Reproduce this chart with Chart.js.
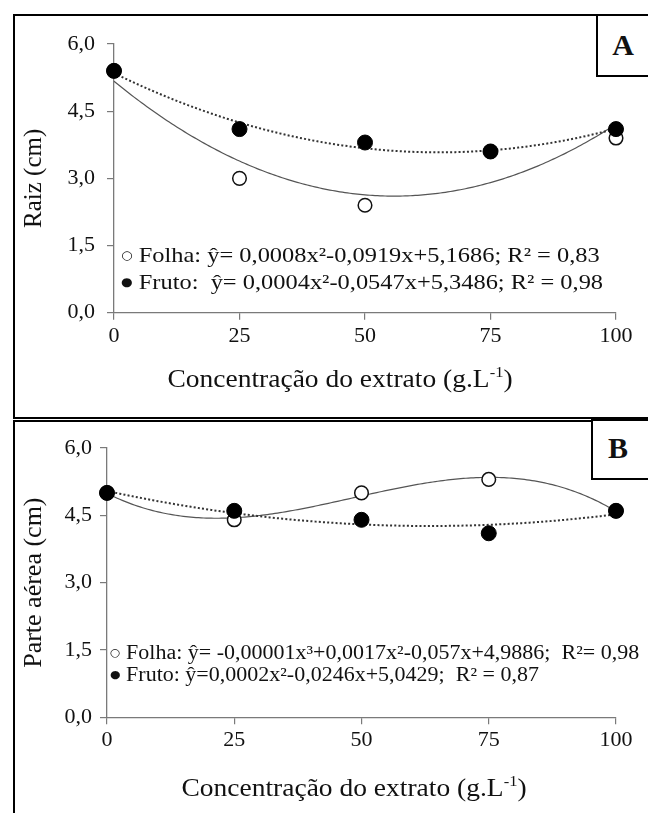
<!DOCTYPE html>
<html>
<head>
<meta charset="utf-8">
<script src="https://cdn.jsdelivr.net/npm/chart.js@4/dist/chart.umd.min.js"></script>
<style>
html,body{margin:0;padding:0;background:#fff;}
#page{position:relative;width:648px;height:813px;overflow:hidden;background:#fff;font-family:"Liberation Serif","Times New Roman",serif;color:#111;}
.frame{position:absolute;border:2px solid #000;box-sizing:border-box;}
canvas{position:absolute;left:0;}
.tag{position:absolute;border:2px solid #000;box-sizing:border-box;background:#fff;font-weight:bold;font-size:30px;line-height:1;}
.tag span{position:absolute;transform:translate(-50%,-50%);}
.leg{position:absolute;white-space:nowrap;line-height:1;transform-origin:0 50%;}
.sym{display:inline-block;font-family:"DejaVu Sans",sans-serif;vertical-align:middle;position:relative;top:-2px;}
.xt{position:absolute;white-space:nowrap;line-height:1;font-size:25px;transform:translate(-50%,-50%) scaleX(1.1);}
</style>
</head>
<body>
<div id="page">
  <div class="frame" style="left:13px;top:14px;width:700px;height:405px;"></div>
  <div class="frame" style="left:13px;top:420px;width:700px;height:420px;"></div>
  <canvas id="cA" width="648" height="418" style="top:0;"></canvas>
  <canvas id="cB" width="648" height="393" style="top:420px;"></canvas>
  <div class="tag" style="left:596px;top:14px;width:60px;height:63px;"><span style="left:25px;top:29px;">A</span></div>
  <div class="tag" style="left:591px;top:419px;width:65px;height:61px;"><span style="left:25px;top:27px;">B</span></div>

  <div class="leg" style="left:121px;top:244px;font-size:22px;transform:scaleX(1.11);"><span class="sym" style="font-size:12px;">○</span> Folha: ŷ= 0,0008x²-0,0919x+5,1686; R² = 0,83</div>
  <div class="leg" style="left:121px;top:271px;font-size:22px;transform:scaleX(1.11);"><span class="sym" style="font-size:12px;">●</span> Fruto:&nbsp; ŷ= 0,0004x²-0,0547x+5,3486; R² = 0,98</div>

  <div class="leg" style="left:110px;top:642px;font-size:20px;transform:scaleX(1.1);"><span class="sym" style="font-size:11px;">○</span> Folha: ŷ= -0,00001x³+0,0017x²-0,057x+4,9886;&nbsp; R²= 0,98</div>
  <div class="leg" style="left:110px;top:664px;font-size:20px;transform:scaleX(1.1);"><span class="sym" style="font-size:11px;">●</span> Fruto: ŷ=0,0002x²-0,0246x+5,0429;&nbsp; R² = 0,87</div>

  <div class="xt" style="left:340px;top:378px;">Concentração do extrato (g.L<sup style="font-size:15px;">-1</sup>)</div>
  <div class="xt" style="left:354px;top:787px;">Concentração do extrato (g.L<sup style="font-size:15px;">-1</sup>)</div>
</div>
<script>
// ---- data ----
const concentracao = [0, 25, 50, 75, 100];          // g.L-1
const raizFolha    = [5.4, 3.0, 2.4, 3.6, 3.9];     // panel A, open circles
const raizFruto    = [5.4, 4.1, 3.8, 3.6, 4.1];     // panel A, filled circles
const aereaFolha   = [5.0, 4.4, 5.0, 5.3, 4.6];     // panel B, open circles
const aereaFruto   = [5.0, 4.6, 4.4, 4.1, 4.6];     // panel B, filled circles
const yTickValues  = [0, 1.5, 3.0, 4.5, 6.0];
const xTickValues  = [0, 25, 50, 75, 100];
const fitDegreeA   = [2, 2];   // Folha, Fruto
const fitDegreeB   = [3, 2];   // Folha, Fruto
const yTitleA = 'Raiz (cm)';
const yTitleB = 'Parte aérea (cm)';

// least-squares polynomial fit of the data points
function polyfit(xs, ys, deg) {
  const n = deg + 1;
  const A = [], b = [];
  for (let i = 0; i < n; i++) {
    A.push(new Array(n).fill(0)); b.push(0);
    for (let k = 0; k < xs.length; k++) {
      b[i] += ys[k] * Math.pow(xs[k], i);
      for (let j = 0; j < n; j++) A[i][j] += Math.pow(xs[k], i + j);
    }
  }
  for (let c = 0; c < n; c++) {
    let p = c;
    for (let r = c + 1; r < n; r++) if (Math.abs(A[r][c]) > Math.abs(A[p][c])) p = r;
    [A[c], A[p]] = [A[p], A[c]]; [b[c], b[p]] = [b[p], b[c]];
    for (let r = c + 1; r < n; r++) {
      const f = A[r][c] / A[c][c];
      for (let j = c; j < n; j++) A[r][j] -= f * A[c][j];
      b[r] -= f * b[c];
    }
  }
  const coef = new Array(n).fill(0);
  for (let r = n - 1; r >= 0; r--) {
    let s = b[r];
    for (let j = r + 1; j < n; j++) s -= A[r][j] * coef[j];
    coef[r] = s / A[r][r];
  }
  return coef;
}
function trend(xs, ys, deg) {
  const c = polyfit(xs, ys, deg);
  const pts = [];
  const lo = xs[0], hi = xs[xs.length - 1];
  for (let x = lo; x <= hi + 1e-9; x += 0.5) {
    let y = 0;
    for (let i = 0; i < c.length; i++) y += c[i] * Math.pow(x, i);
    pts.push({x: x, y: y});
  }
  return pts;
}
const pts = (xs, ys) => xs.map((x, i) => ({x: x, y: ys[i]}));

Chart.defaults.font.family = "'Liberation Serif','Times New Roman',serif";
Chart.defaults.color = '#111';

function makeChart(id, folha, fruto, degs, yTitle, geo) {
  const axisCol = '#7a7a7a';
  return new Chart(document.getElementById(id), {
    type: 'scatter',
    data: {
      datasets: [
        {label: 'Fruto', data: pts(concentracao, fruto), order: 0, clip: false,
         pointRadius: 7.5, pointHoverRadius: 7.5, pointBackgroundColor: '#000', pointBorderColor: '#000', pointBorderWidth: 1, showLine: false},
        {label: 'Folha', data: pts(concentracao, folha), order: 1, clip: false,
         pointRadius: 6.8, pointHoverRadius: 6.8, pointBackgroundColor: '#fff', pointBorderColor: '#111', pointBorderWidth: 1.5, showLine: false},
        {label: 'Fruto ajuste', data: trend(concentracao, fruto, degs[1]), order: 2, clip: false,
         showLine: true, pointRadius: 0, borderColor: '#333', borderWidth: 2, borderDash: [2, 2.2], tension: 0, fill: false},
        {label: 'Folha ajuste', data: trend(concentracao, folha, degs[0]), order: 3, clip: false,
         showLine: true, pointRadius: 0, borderColor: '#555', borderWidth: 1.2, tension: 0, fill: false}
      ]
    },
    options: {
      responsive: false, animation: false, devicePixelRatio: 1,
      layout: {padding: {left: 0, right: 648 - geo.right, top: geo.top, bottom: 0}},
      plugins: {legend: {display: false}, tooltip: {enabled: false}},
      scales: {
        x: {
          type: 'linear', min: 0, max: 100,
          afterBuildTicks: s => { s.ticks = xTickValues.map(v => ({value: v})); },
          afterFit: s => { s.height = geo.xh; },
          ticks: {font: {size: 22}, color: '#111', padding: 3, maxRotation: 0, callback: v => String(v)},
          grid: {drawOnChartArea: false, drawTicks: true, tickLength: 7, color: axisCol, lineWidth: 1.2},
          border: {display: true, color: axisCol, width: 1.3}
        },
        y: {
          type: 'linear', min: 0, max: 6,
          afterBuildTicks: s => { s.ticks = yTickValues.map(v => ({value: v})); },
          afterFit: s => { s.width = geo.left; },
          ticks: {font: {size: 22}, color: '#111', padding: geo.ypad, callback: v => v.toFixed(1).replace('.', ',')},
          grid: {drawOnChartArea: false, drawTicks: true, tickLength: 7, color: axisCol, lineWidth: 1.2},
          border: {display: true, color: axisCol, width: 1.3},
          title: {display: true, text: yTitle, font: {size: geo.ytf}, color: '#111', padding: {top: geo.ytp, bottom: 0}}
        }
      }
    }
  });
}

makeChart('cA', raizFolha, raizFruto, fitDegreeA, yTitleA, {left: 114, right: 616, top: 44, xh: 418 - 312.7, ypad: 12, ytp: 19, ytf: 25});
makeChart('cB', aereaFolha, aereaFruto, fitDegreeB, yTitleB, {left: 107, right: 616, top: 28, xh: 393 - 297.3, ypad: 8, ytp: 19, ytf: 26});
</script>
</body>
</html>
